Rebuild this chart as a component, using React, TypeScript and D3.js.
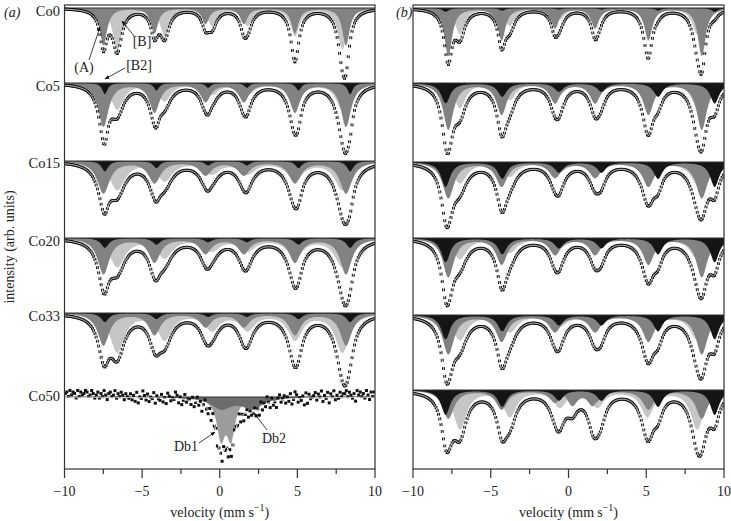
import React from 'react';
import * as d3 from 'd3';

// samples (rows) and axis ticks
const SAMPLES = ['Co0', 'Co5', 'Co15', 'Co20', 'Co33', 'Co50'];
const X_MAJOR = [-10, -5, 0, 5, 10];
const X_MINOR = [-7.5, -2.5, 2.5, 7.5];

// sextet line positions (fraction of outer splitting) and relative intensities
const LINE_POS = [-1, -0.579, -0.158, 0.158, 0.579, 1];
const LINE_INT = [1, 0.667, 0.42, 0.42, 0.667, 1];

// sites per panel: [isomer shift, outer half splitting] for light [B], dark (A), black [B2]
const SITES_A = [[0.65, 7.25], [0.32, 7.81], [0.5, 7.9]];
const SITES_B = [[0.65, 7.63], [0.42, 8.15], [0.75, 8.65]];

// depth (fraction of strip) per sample: light, dark, black
const DEPTH_A = [
  [0.55, 0.5, 0.0],
  [0.35, 0.58, 0.15],
  [0.38, 0.43, 0.14],
  [0.38, 0.48, 0.13],
  [0.52, 0.43, 0.12],
  [0, 0, 0],
];
const WIDTH_A = [
  [0.35, 0.28, 0.25],
  [0.5, 0.4, 0.2],
  [0.6, 0.48, 0.25],
  [0.6, 0.45, 0.3],
  [0.55, 0.45, 0.3],
  [0.3, 0.3, 0.3],
];
const DEPTH_B = [
  [0.35, 0.64, 0.05],
  [0.33, 0.62, 0.27],
  [0.28, 0.48, 0.33],
  [0.28, 0.52, 0.32],
  [0.33, 0.52, 0.32],
  [0.52, 0.38, 0.33],
];
const WIDTH_B = [
  [0.38, 0.3, 0.25],
  [0.45, 0.4, 0.35],
  [0.55, 0.45, 0.35],
  [0.55, 0.43, 0.35],
  [0.55, 0.45, 0.35],
  [0.5, 0.45, 0.35],
];

// doublets: [centre, splitting, depth, width]
const DB1_CO50_A = [0.4, 0.65, 0.52, 0.32];
const DB2_CO50_A = [1.1, 2.0, 0.15, 0.8];
const DB_CO50_B = [0.9, 1.3, 0.2, 0.4];

// Co50 (a) scatter, one digit per channel (0 = high, 9 = low)
const CO50_SCATTER =
  '21403125041320143025' + '31524036214305241362' + '45263718450362745183' +
  '56274813645027385164' + '47285163940572816394' + '38165927403618495273' +
  '65284917360482759316' + '42736185027463918254' + '31624073518240635142' +
  '20413527031425036141';

// layout
const BASE_A = [8, 83, 161, 238, 313, 397];
const BASE_B = [8, 83, 162, 238, 315, 390];
const LABEL_Y = [13, 88, 165, 243, 318, 398];
const TOP = 5;
const BOTTOM = 469;
const STRIP = 75;
const PANELS = [
  { left: 64.5, right: 375, tag: '(a)', tagX: 4, sites: SITES_A, depth: DEPTH_A, width: WIDTH_A, base: BASE_A },
  { left: 413, right: 724, tag: '(b)', tagX: 396, sites: SITES_B, depth: DEPTH_B, width: WIDTH_B, base: BASE_B },
];

const LIGHT = '#c6c6c6';
const DARK = '#828282';
const BLACK = '#151515';
const FONT = "'Liberation Serif', 'DejaVu Serif', serif";

const lorentz = (v: number, c: number, d: number, w: number) => {
  const u = (v - c) / w;
  return d / (1 + u * u);
};
const sextet = (site: number[], d: number, w: number) => (v: number) =>
  LINE_POS.reduce((s, r, i) => s + lorentz(v, site[0] + r * site[1], d * LINE_INT[i], w), 0);
const doublet = (p: number[]) => (v: number) =>
  lorentz(v, p[0] - p[1] / 2, p[2], p[3]) + lorentz(v, p[0] + p[1] / 2, p[2], p[3]);

const V_CURVE = d3.range(-10, 10.001, 0.04);
const V_POINTS = d3.range(-9.96, 10, 0.08);
const V_SCATTER = d3.range(-9.95, 10, 0.1);

function Spectrum({ panel, row, x, clipId }: any) {
  const base = panel.base[row];
  const y = d3.scaleLinear().domain([0, 1]).range([base, base + STRIP]);
  const comps: { f: (v: number) => number; fill: string }[] = [];
  const colours = [LIGHT, DARK, BLACK];
  panel.sites.forEach((site: number[], k: number) => {
    const d = panel.depth[row][k];
    if (d > 0) comps.push({ f: sextet(site, d, panel.width[row][k]), fill: colours[k] });
  });
  const isA = panel.tag === '(a)';
  if (row === 5 && isA) {
    comps.push({ f: doublet(DB1_CO50_A), fill: '#9c9c9c' });
    comps.push({ f: doublet(DB2_CO50_A), fill: '#6c6c6c' });
  }
  if (row === 5 && !isA) comps.splice(1, 0, { f: doublet(DB_CO50_B), fill: DARK });
  const total = (v: number) => comps.reduce((s, c) => s + c.f(v), 0);

  const areaGen = (f: (v: number) => number) =>
    d3.area<number>().x((v) => x(v)).y0(y(0)).y1((v) => y(f(v)))(V_CURVE) as string;
  const fitPath = d3.line<number>().x((v) => x(v)).y((v) => y(total(v)))(V_CURVE) as string;

  const scatter = row === 5 && isA;
  const pts = scatter
    ? V_SCATTER.map((v, i) => [v, total(v) + ((+CO50_SCATTER[i] - 4.5) / 4.5) * 0.09])
    : V_POINTS.map((v) => [v, total(v)]);
  const sz = scatter ? 3 : 2.9;

  return (
    <g clipPath={`url(#${clipId})`}>
      {comps.map((c, i) => (
        <path key={i} d={areaGen(c.f)} fill={c.fill} />
      ))}
      <line x1={panel.left} x2={panel.right} y1={base} y2={base} stroke="#333" strokeWidth={1.2} />
      {pts.map(([v, a], i) => (
        <rect key={i} x={x(v) - sz / 2} y={y(a) - sz / 2} width={sz} height={sz} fill="#111" />
      ))}
      <path d={fitPath} fill="none" stroke="#fff" strokeWidth={scatter ? 0.9 : 0.8} />
    </g>
  );
}

export default function App() {
  return (
    <svg width={731} height={521} style={{ position: 'absolute', left: 0, top: 0 }} fontFamily={FONT}>
      <defs>
        <marker id="ah" viewBox="0 0 10 10" refX="9" refY="5" markerWidth="6" markerHeight="6" orient="auto-start-reverse">
          <path d="M0,1 L10,5 L0,9 z" fill="#111" />
        </marker>
        {PANELS.map((p, i) => (
          <clipPath key={i} id={`clip${i}`}>
            <rect x={p.left} y={TOP} width={p.right - p.left} height={BOTTOM - TOP} />
          </clipPath>
        ))}
      </defs>
      <rect width={731} height={521} fill="#fff" />
      {PANELS.map((p, pi) => {
        const x = d3.scaleLinear().domain([-10, 10]).range([p.left, p.right]);
        return (
          <g key={pi}>
            {SAMPLES.map((s, r) => (
              <Spectrum key={s} panel={p} row={r} x={x} clipId={`clip${pi}`} />
            ))}
            <rect x={p.left} y={TOP} width={p.right - p.left} height={BOTTOM - TOP} fill="none" stroke="#333" strokeWidth={1.2} />
            {X_MAJOR.map((t) => (
              <g key={t}>
                <line x1={x(t)} x2={x(t)} y1={BOTTOM} y2={BOTTOM + 9} stroke="#333" strokeWidth={1.2} />
                <text x={x(t)} y={493} textAnchor="middle" dominantBaseline="middle" fontSize={14} fill="#222">
                  {t < 0 ? `\u2212${-t}` : t}
                </text>
              </g>
            ))}
            {X_MINOR.map((t) => (
              <line key={t} x1={x(t)} x2={x(t)} y1={BOTTOM} y2={BOTTOM + 5} stroke="#333" strokeWidth={1.2} />
            ))}
            <text x={x(0)} y={514} textAnchor="middle" dominantBaseline="middle" fontSize={14} fill="#222">
              velocity (mm<tspan dx={3}>s</tspan>
              <tspan dy={-5} fontSize={10}>{'\u22121'}</tspan>
              <tspan dy={5}>)</tspan>
            </text>
            <text x={p.tagX} y={14} fontSize={14} fontStyle="italic" dominantBaseline="middle" fill="#222">
              {p.tag}
            </text>
          </g>
        );
      })}
      {SAMPLES.map((s, r) => (
        <text key={s} x={60} y={LABEL_Y[r]} textAnchor="end" dominantBaseline="middle" fontSize={14.5} fill="#222">
          {s}
        </text>
      ))}
      <text transform="translate(11,247) rotate(-90)" textAnchor="middle" dominantBaseline="middle" fontSize={14} fill="#222">
        intensity (arb. units)
      </text>
      {/* annotations */}
      <g fontSize={14} fill="#222">
        <text x={84} y={69} textAnchor="middle" dominantBaseline="middle">(A)</text>
        <line x1={89} y1={60} x2={100} y2={27} stroke="#111" strokeWidth={0.8} markerEnd="url(#ah)" />
        <text x={142} y={43} textAnchor="middle" dominantBaseline="middle">[B]</text>
        <line x1={134} y1={36} x2={122} y2={21} stroke="#111" strokeWidth={0.8} markerEnd="url(#ah)" />
        <text x={139} y={67} textAnchor="middle" dominantBaseline="middle">[B2]</text>
        <line x1={125} y1={68} x2={105} y2={79} stroke="#111" strokeWidth={0.8} markerEnd="url(#ah)" />
        <text x={186} y={448} textAnchor="middle" dominantBaseline="middle">Db1</text>
        <line x1={199} y1={443} x2={215} y2={432} stroke="#111" strokeWidth={0.8} markerEnd="url(#ah)" />
        <text x={274} y={440} textAnchor="middle" dominantBaseline="middle">Db2</text>
        <line x1={267} y1={430} x2={254} y2={413} stroke="#111" strokeWidth={0.8} markerEnd="url(#ah)" />
      </g>
    </svg>
  );
}
